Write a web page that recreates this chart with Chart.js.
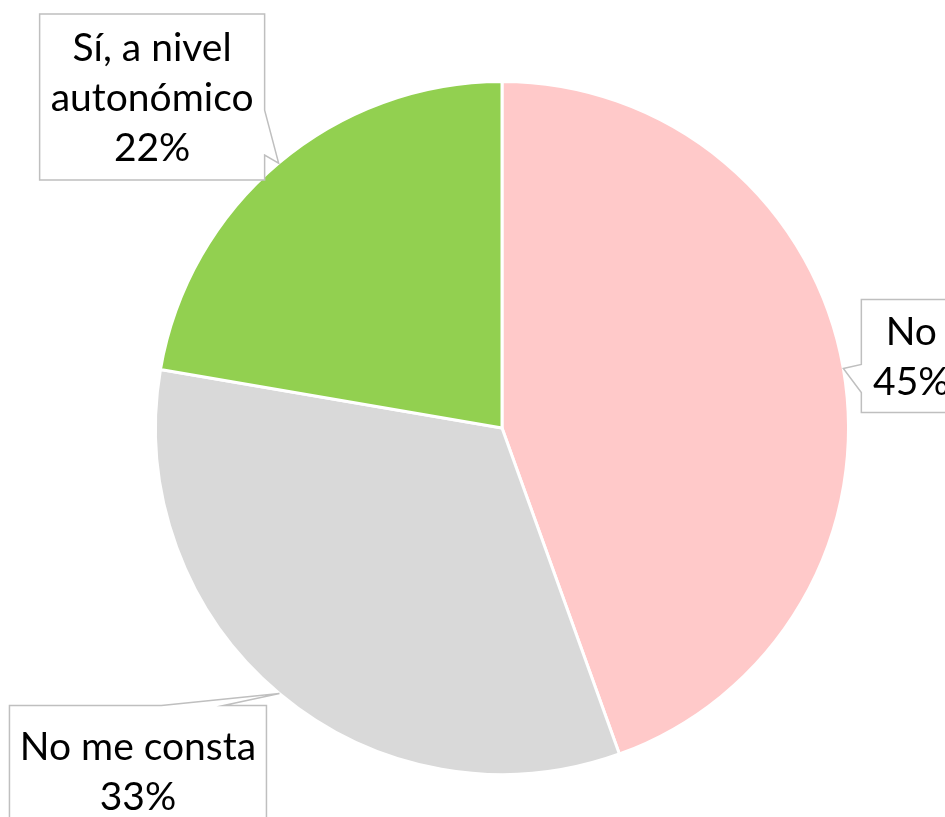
<!DOCTYPE html>
<html>
<head>
<meta charset="utf-8">
<script src="https://cdn.jsdelivr.net/npm/chart.js@4/dist/chart.umd.min.js"></script>
<style>
html,body{margin:0;padding:0;background:#fff;}
#wrap{width:945px;height:817px;position:relative;}
</style>
</head>
<body>
<div id="wrap"><canvas id="c" width="945" height="817"></canvas></div>
<script>
const categories = ['No', 'No me consta', 'Sí, a nivel autonómico'];
const values = [44.5, 33.2, 22.3];
const percentLabels = ['45%', '33%', '22%'];
const labelLines = [['No'], ['No me consta'], ['Sí, a nivel', 'autonómico']];
const colors = ['#FFC9C9', '#D9D9D9', '#92D050'];

// callout box geometry relative to the arc tip (style only)
const callouts = [
  {box: [18, -69, 100, 113], side: 'left', base: [-4, 24]},
  {box: [-270, 12, 257, 130], side: 'top', base: [-118, -56]},
  {box: [-239, -149, 225, 166], side: 'right', base: [-53, -8]}
];

const calloutPlugin = {
  id: 'callouts',
  afterDatasetsDraw(chart) {
    const ctx = chart.ctx;
    const meta = chart.getDatasetMeta(0);
    ctx.save();
    ctx.font = '39px Lato, "Open Sans", sans-serif';
    ctx.textAlign = 'center';
    ctx.textBaseline = 'alphabetic';
    meta.data.forEach((arc, i) => {
      const p = arc.getProps(['x','y','startAngle','endAngle','outerRadius'], true);
      const mid = (p.startAngle + p.endAngle) / 2;
      const tx = p.x + Math.cos(mid) * p.outerRadius;
      const ty = p.y + Math.sin(mid) * p.outerRadius;
      const c = callouts[i];
      const bx = tx + c.box[0], by = ty + c.box[1], bw = c.box[2], bh = c.box[3];
      ctx.beginPath();
      ctx.moveTo(bx, by);
      if (c.side === 'top') {
        const b1 = tx + c.base[0], b2 = tx + c.base[1];
        ctx.lineTo(b1, by); ctx.lineTo(tx, ty); ctx.lineTo(b2, by);
      }
      ctx.lineTo(bx + bw, by);
      if (c.side === 'right') {
        const b1 = ty + c.base[0], b2 = ty + c.base[1];
        ctx.lineTo(bx + bw, b1); ctx.lineTo(tx, ty); ctx.lineTo(bx + bw, b2);
      }
      ctx.lineTo(bx + bw, by + bh);
      ctx.lineTo(bx, by + bh);
      if (c.side === 'left') {
        const b1 = ty + c.base[0], b2 = ty + c.base[1];
        ctx.lineTo(bx, b2); ctx.lineTo(tx, ty); ctx.lineTo(bx, b1);
      }
      ctx.closePath();
      ctx.fillStyle = '#ffffff';
      ctx.fill();
      ctx.strokeStyle = '#BFBFBF';
      ctx.lineWidth = 1.5;
      ctx.stroke();
      const lines = labelLines[i].concat([percentLabels[i]]);
      const lh = 50;
      const total = lh * lines.length;
      const cx = bx + bw / 2;
      let y0 = by + (bh - total) / 2 + 39;
      ctx.fillStyle = '#000000';
      lines.forEach((t, k) => ctx.fillText(t, cx, y0 + k * lh));
    });
    ctx.restore();
  }
};

new Chart(document.getElementById('c'), {
  type: 'pie',
  data: {
    labels: categories,
    datasets: [{
      data: values,
      backgroundColor: colors,
      borderColor: '#ffffff',
      borderWidth: 3
    }]
  },
  options: {
    responsive: false,
    animation: false,
    layout: {padding: {left: 154, right: 95, top: 80, bottom: 41}},
    plugins: {legend: {display: false}, tooltip: {enabled: false}}
  },
  plugins: [calloutPlugin]
});
</script>
</body>
</html>
